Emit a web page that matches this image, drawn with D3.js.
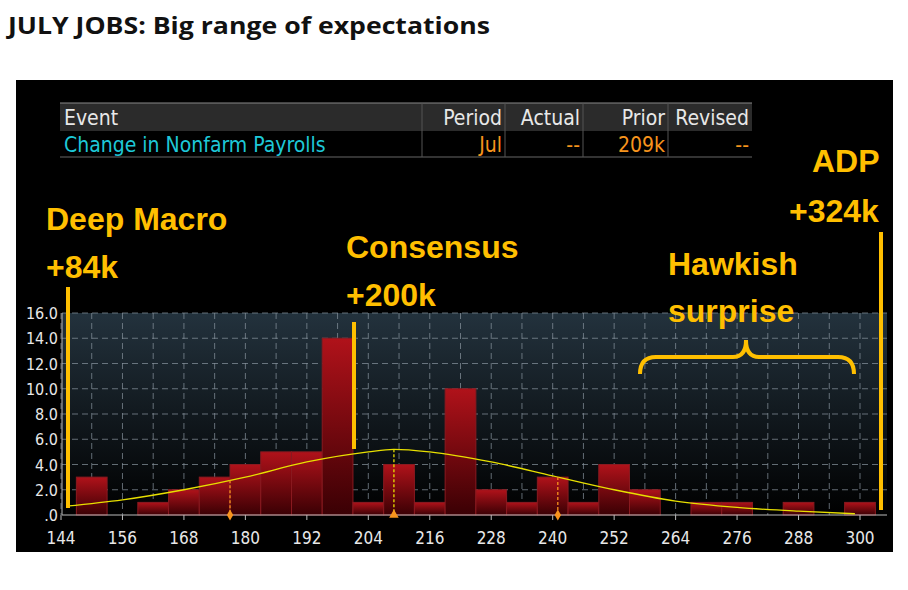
<!DOCTYPE html>
<html><head><meta charset="utf-8">
<script src="https://cdn.jsdelivr.net/npm/d3@7/dist/d3.min.js"></script>
<style>body{margin:0;background:#fff}</style>
</head><body><svg id="c" width="908" height="590"></svg>
<script>
const binStarts = [147,153,159,165,171,177,183,189,195,201,207,213,219,225,231,237,243,249,255,261,267,273,279,285,291,297];
const binCounts = [3,0,1,2,3,4,5,5,14,1,4,1,10,2,1,3,1,4,2,0,1,1,0,1,0,1];
const binWidth = 6;
const curveX = [145,156,168,180,192,204,209,216,228,240,252,264,276,288,299];
const curveY = [0.7,1.2,2.0,3.0,4.2,5.0,5.2,5.0,4.2,3.1,2.0,1.1,0.6,0.3,0.1];
const xTicks = [144,156,168,180,192,204,216,228,240,252,264,276,288,300];
const yTicks = [0,2,4,6,8,10,12,14,16];
const markers = [{x:177,t:"d"},{x:209,t:"t"},{x:241,t:"d"}];
const tableHead = ["Event","Period","Actual","Prior","Revised"];
const tableRow = ["Change in Nonfarm Payrolls","Jul","--","209k","--"];

const svg = d3.select("#c");
const orange = "#FFBF00";
svg.append("text").attr("x",8).attr("y",34).text("JULY JOBS: Big range of expectations")
  .attr("font-family","Open Sans, sans-serif").attr("font-weight","bold").attr("font-size",24).attr("fill","#111")
  .attr("textLength",482).attr("lengthAdjust","spacingAndGlyphs");
svg.append("rect").attr("x",16).attr("y",80).attr("width",877).attr("height",472).attr("fill","#000");

// table
const cols = [60,422,505,583,668,752];
const narrow = "DejaVu Sans Condensed, Liberation Sans Narrow, sans-serif";
svg.append("rect").attr("x",60).attr("y",103).attr("width",692).attr("height",28).attr("fill","#2b2b2b");
svg.append("line").attr("x1",60).attr("x2",752).attr("y1",103).attr("y2",103).attr("stroke","#888");
svg.append("line").attr("x1",60).attr("x2",752).attr("y1",157).attr("y2",157).attr("stroke","#666");
cols.slice(1,5).forEach(c=>svg.append("line").attr("x1",c).attr("x2",c).attr("y1",103).attr("y2",157).attr("stroke","#555"));
tableHead.forEach((h,i)=>{
  svg.append("text").attr("x", i==0?cols[0]+4:cols[i+1]-3).attr("y",125).attr("text-anchor",i==0?"start":"end")
   .text(h).attr("fill","#e8e8e8").attr("font-family",narrow).attr("font-size",21);
});
tableRow.forEach((h,i)=>{
  svg.append("text").attr("x", i==0?cols[0]+4:cols[i+1]-3).attr("y",152).attr("text-anchor",i==0?"start":"end")
   .text(h).attr("fill",i==0?"#1ec8d8":"#f7941d").attr("font-family",narrow).attr("font-size",21);
});

// chart
const x = d3.scaleLinear().domain([144,300]).range([61,860]);
const y = d3.scaleLinear().domain([0,16]).range([515,313]);
const defs = svg.append("defs");
const g1 = defs.append("linearGradient").attr("id","bg").attr("x1",0).attr("x2",0).attr("y1",0).attr("y2",1);
g1.append("stop").attr("offset",0).attr("stop-color","#23323d");
g1.append("stop").attr("offset",1).attr("stop-color","#000");
const g2 = defs.append("linearGradient").attr("id","bar").attr("x1",0).attr("x2",0).attr("y1",0).attr("y2",1);
g2.append("stop").attr("offset",0).attr("stop-color","#b0121a");
g2.append("stop").attr("offset",1).attr("stop-color","#3a0004");
svg.append("rect").attr("x",62).attr("y",313).attr("width",825).attr("height",202).attr("fill","url(#bg)");
yTicks.slice(1).forEach(v=>svg.append("line").attr("x1",62).attr("x2",887).attr("y1",y(v)).attr("y2",y(v))
  .attr("stroke","#8a96a0").attr("stroke-dasharray","6,4").attr("opacity",0.7));
xTicks.forEach(v=>svg.append("line").attr("x1",x(v)).attr("x2",x(v)).attr("y1",313).attr("y2",515)
  .attr("stroke","#8a96a0").attr("stroke-dasharray","6,4").attr("opacity",0.7));
d3.range(150,300,12).forEach(v=>svg.append("line").attr("x1",x(v)).attr("x2",x(v)).attr("y1",313).attr("y2",515)
  .attr("stroke","#8a96a0").attr("stroke-dasharray","6,4").attr("opacity",0.7));
svg.selectAll("rect.b").data(binStarts).join("rect").attr("class","b")
  .attr("x",d=>x(d)).attr("width",d=>x(d+binWidth)-x(d)).attr("y",(d,i)=>y(binCounts[i]))
  .attr("height",(d,i)=>y(0)-y(binCounts[i])).attr("fill","url(#bar)").attr("stroke","#8a1a20").attr("stroke-width",1)
  .attr("display",(d,i)=>binCounts[i]?null:"none");
svg.append("line").attr("x1",62).attr("x2",887).attr("y1",515).attr("y2",515).attr("stroke","#bbb");
svg.append("line").attr("x1",62).attr("x2",62).attr("y1",313).attr("y2",515).attr("stroke","#bbb");
const line = d3.line().x((d,i)=>x(d)).y((d,i)=>y(curveY[i])).curve(d3.curveMonotoneX);
svg.append("path").attr("d",line(curveX)).attr("fill","none").attr("stroke","#e8e000").attr("stroke-width",1.3);
const interp = v=>{for(let i=0;i<curveX.length-1;i++) if(v>=curveX[i]&&v<=curveX[i+1]) return curveY[i]+(curveY[i+1]-curveY[i])*(v-curveX[i])/(curveX[i+1]-curveX[i]);};
markers.forEach(m=>{
  svg.append("line").attr("x1",x(m.x)).attr("x2",x(m.x)).attr("y1",y(interp(m.x))).attr("y2",515)
    .attr("stroke",m.t=="t"?"#e8e000":"#f7941d").attr("stroke-dasharray","3,2").attr("stroke-width",1.3);
  svg.append("path").attr("transform",`translate(${x(m.x)},515)`)
    .attr("d",d3.symbol(m.t=="t"?d3.symbolTriangle:d3.symbolDiamond,m.t=="t"?40:35)()).attr("fill","#f7941d");
});
// axes labels
xTicks.forEach(v=>{
  svg.append("line").attr("x1",x(v)).attr("x2",x(v)).attr("y1",515).attr("y2",520).attr("stroke","#bbb");
  svg.append("text").attr("x",x(v)).attr("y",544).attr("text-anchor","middle").text(v)
   .attr("fill","#e8e8e8").attr("font-family",narrow).attr("font-size",17);
});
yTicks.forEach(v=>svg.append("text").attr("x",58).attr("y",y(v)+6).attr("text-anchor","end")
  .text(v==0?".0":v.toFixed(1)).attr("fill","#e8e8e8").attr("font-family",narrow).attr("font-size",16));

// annotations
const ann = (t,xx,yy)=>svg.append("text").attr("x",xx).attr("y",yy).text(t).attr("fill",orange)
  .attr("font-family","Liberation Sans, Arial, sans-serif").attr("font-weight","bold").attr("font-size",32);
ann("Deep Macro",46,230); ann("+84k",46,278);
ann("Consensus",346,258); ann("+200k",346,306);
ann("Hawkish",668,275); ann("surprise",668,322);
ann("ADP",812,172); ann("+324k",789,222);
const vl=(xx,a,b)=>svg.append("line").attr("x1",xx).attr("x2",xx).attr("y1",a).attr("y2",b).attr("stroke",orange).attr("stroke-width",4);
vl(68,287,508); vl(354,322,449); vl(881,232,510);
svg.append("path").attr("d","M640,374 Q640,357 656,357 L733,357 Q746,357 746,340 Q746,357 759,357 L838,357 Q854,357 854,374")
  .attr("fill","none").attr("stroke",orange).attr("stroke-width",4);
</script></body></html>
